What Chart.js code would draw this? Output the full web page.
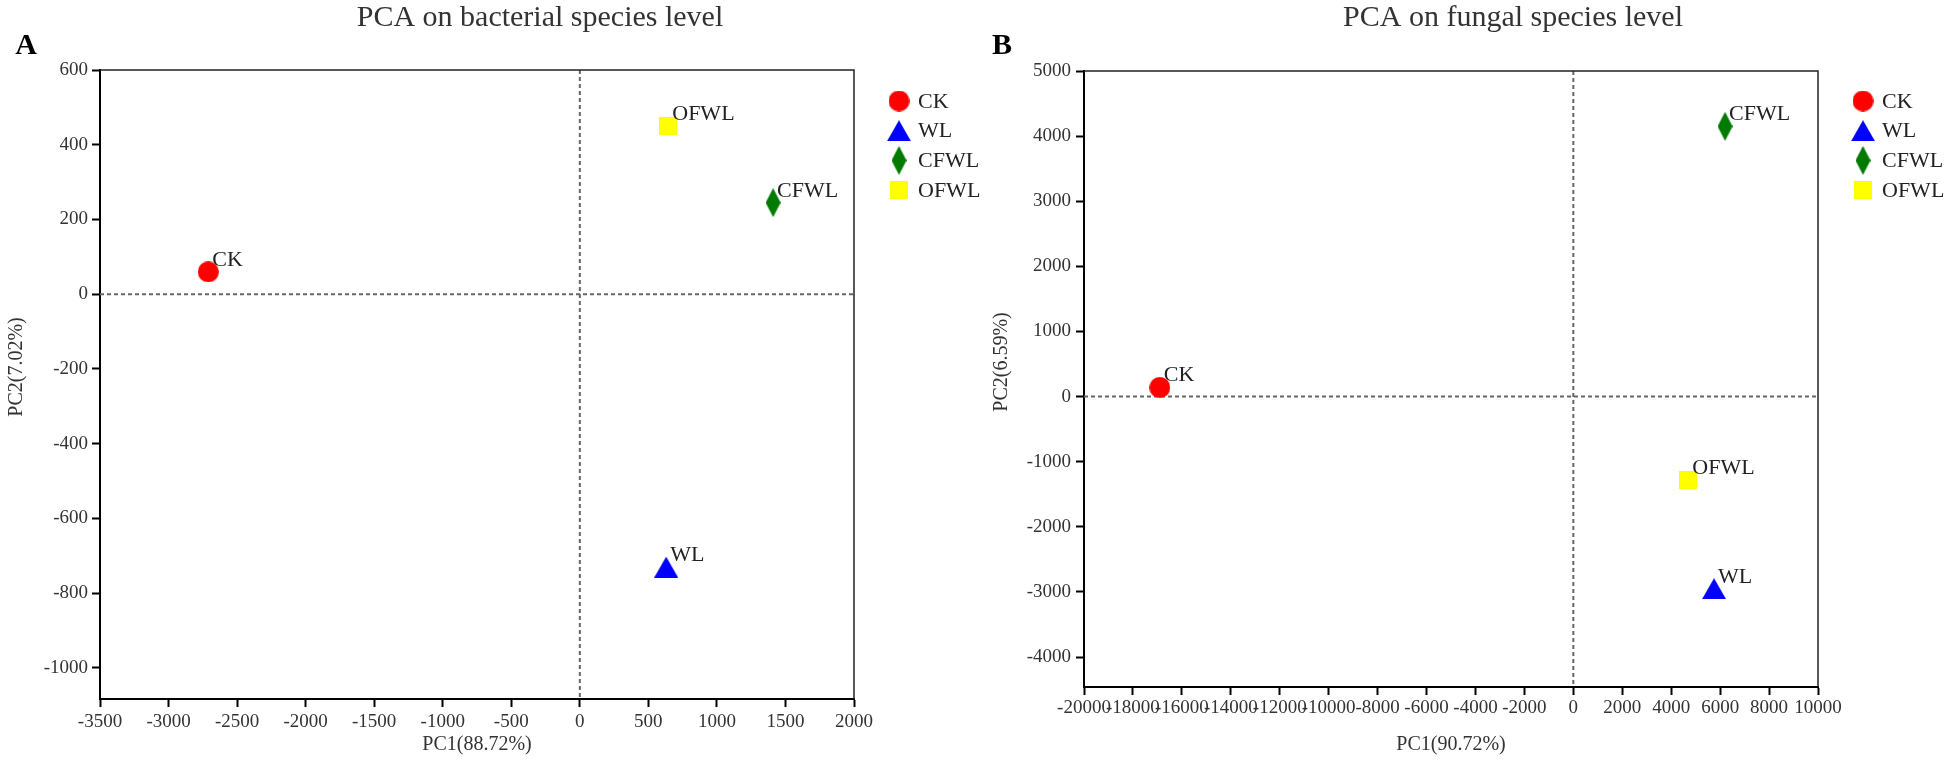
<!DOCTYPE html>
<html lang="en">
<head>
    <meta charset="UTF-8">
    <title>PCA on bacterial and fungal species level</title>
    <script src="https://cdn.jsdelivr.net/npm/chart.js"></script>
    <style>
        * { margin: 0; padding: 0; box-sizing: border-box; }
        body { background: #fff; width: 1948px; height: 772px; position: relative; overflow: hidden; }
        .panel { position: absolute; top: 0; }
        #panelA { left: 0; }
        #panelB { left: 980px; }
    </style>
</head>
<body>
    <div class="panel" id="panelA"><canvas id="bacChart" width="980" height="772"></canvas></div>
    <div class="panel" id="panelB"><canvas id="funChart" width="968" height="772"></canvas></div>

    <script>
        // sample groups (legend order)
        const groups = ['CK', 'WL', 'CFWL', 'OFWL'];
        const groupColors = ['#ff0000', '#0000ff', '#007a00', '#ffff00'];
        const groupShapes = ['circle', 'triangle', 'diamond', 'square'];

        // A: bacterial species level
        const bacPC1 = [-2710, 630, 1410, 645];
        const bacPC2 = [60, -730, 245, 450];
        const bacXTicks = [-3500, -3000, -2500, -2000, -1500, -1000, -500, 0, 500, 1000, 1500, 2000];
        const bacYTicks = [600, 400, 200, 0, -200, -400, -600, -800, -1000];

        // B: fungal species level
        const funPC1 = [-16900, 5750, 6200, 4700];
        const funPC2 = [140, -2950, 4150, -1280];
        const funXTicks = [-20000, -18000, -16000, -14000, -12000, -10000, -8000, -6000, -4000, -2000, 0, 2000, 4000, 6000, 8000, 10000];
        const funYTicks = [5000, 4000, 3000, 2000, 1000, 0, -1000, -2000, -3000, -4000];

        const FONT = "'Liberation Serif', 'Times New Roman', serif";

        // marker images so points and legend look the same
        function marker(shape, color) {
            const c = document.createElement('canvas');
            const dims = { circle: [21, 21], triangle: [24, 21], diamond: [15, 29], square: [18, 18] }[shape];
            c.width = dims[0]; c.height = dims[1];
            const g = c.getContext('2d');
            const w = c.width, h = c.height;
            g.fillStyle = color;
            g.beginPath();
            if (shape === 'circle') {
                g.arc(w / 2, h / 2, w / 2, 0, Math.PI * 2);
            } else if (shape === 'triangle') {
                g.moveTo(w / 2, 0); g.lineTo(w, h); g.lineTo(0, h); g.closePath();
            } else if (shape === 'diamond') {
                g.moveTo(w / 2, 0); g.lineTo(w, h / 2); g.lineTo(w / 2, h); g.lineTo(0, h / 2); g.closePath();
            } else {
                g.rect(0, 0, w, h);
            }
            g.fill();
            return c;
        }
        const markers = groups.map((g, i) => marker(groupShapes[i], groupColors[i]));

        // dashed zero lines, frame, titles, point labels, legend
        const overlay = {
            id: 'overlay',
            beforeDatasetsDraw(chart, args, o) {
                const { ctx, chartArea: a, scales: { x, y } } = chart;
                ctx.save();
                ctx.strokeStyle = '#666';
                ctx.lineWidth = 2;
                ctx.setLineDash([4, 3]);
                const x0 = x.getPixelForValue(0), y0 = y.getPixelForValue(0);
                ctx.beginPath();
                ctx.moveTo(x0, a.top); ctx.lineTo(x0, a.bottom);
                ctx.moveTo(a.left, y0); ctx.lineTo(a.right, y0);
                ctx.stroke();
                ctx.setLineDash([]);
                ctx.strokeStyle = '#222';
                ctx.lineWidth = 1.5;
                ctx.beginPath();
                ctx.moveTo(a.left, a.top); ctx.lineTo(a.right, a.top); ctx.lineTo(a.right, a.bottom);
                ctx.stroke();
                ctx.restore();
            },
            afterDraw(chart, args, o) {
                const { ctx, chartArea: a } = chart;
                ctx.save();
                ctx.fillStyle = '#333';
                ctx.textBaseline = 'alphabetic';

                ctx.font = '30px ' + FONT;
                ctx.textAlign = 'center';
                ctx.fillText(o.title, o.titleX, 26);

                ctx.fillStyle = '#000';
                ctx.font = 'bold 30px ' + FONT;
                ctx.fillText(o.letter, o.letterX, 54);

                ctx.fillStyle = '#333';
                ctx.font = '20px ' + FONT;
                ctx.textBaseline = 'middle';
                ctx.fillText(o.xTitle, (a.left + a.right) / 2, 745);
                ctx.save();
                ctx.translate(o.yTitleX, o.yTitleY);
                ctx.rotate(-Math.PI / 2);
                ctx.fillText(o.yTitle, 0, 0);
                ctx.restore();

                // point labels
                ctx.fillStyle = '#222';
                ctx.font = '22px ' + FONT;
                ctx.textAlign = 'left';
                ctx.textBaseline = 'alphabetic';
                chart.data.datasets.forEach((ds, i) => {
                    const pt = chart.getDatasetMeta(i).data[0];
                    ctx.fillText(ds.label, pt.x + 4, pt.y - 6);
                });

                // legend
                ctx.textBaseline = 'middle';
                chart.data.datasets.forEach((ds, i) => {
                    const ry = 101 + i * 29.7;
                    const m = ds.pointStyle;
                    ctx.drawImage(m, o.legendX - m.width / 2, ry - m.height / 2);
                    ctx.fillText(ds.label, o.legendX + 19, ry + 1);
                });
                ctx.restore();
            }
        };

        function axis(min, max, ticks, opts) {
            return {
                type: 'linear',
                min: min,
                max: max,
                afterBuildTicks: s => { s.ticks = ticks.map(v => ({ value: v })); },
                afterFit: s => {
                    if (opts.width) s.width = opts.width;
                    if (opts.height) s.height = opts.height;
                },
                grid: { drawOnChartArea: false, drawTicks: true, tickLength: 8, tickColor: '#000', tickWidth: 2 },
                border: { display: true, color: '#000', width: 2 },
                ticks: {
                    autoSkip: false,
                    maxRotation: 0,
                    minRotation: 0,
                    padding: opts.pad,
                    color: '#333',
                    font: { family: FONT, size: 19 },
                    callback: v => String(v)
                }
            };
        }

        function pcaChart(id, pc1, pc2, xAxis, yAxis, pad, ov) {
            const datasets = groups.map((g, i) => ({
                label: g,
                data: [{ x: pc1[i], y: pc2[i] }],
                pointStyle: markers[i],
                pointRadius: 10,
                backgroundColor: groupColors[i],
                borderColor: groupColors[i]
            }));
            return new Chart(document.getElementById(id), {
                type: 'scatter',
                data: { datasets: datasets },
                plugins: [overlay],
                options: {
                    responsive: false,
                    animation: false,
                    events: [],
                    layout: { padding: pad },
                    scales: { x: xAxis, y: yAxis },
                    plugins: {
                        legend: { display: false },
                        tooltip: { enabled: false },
                        overlay: ov
                    }
                }
            });
        }

        pcaChart('bacChart', bacPC1, bacPC2,
            axis(-3500, 2000, bacXTicks, { height: 73, pad: 4 }),
            axis(-1083, 600, bacYTicks, { width: 100, pad: 4 }),
            { left: 0, top: 70, right: 126, bottom: 0 },
            {
                title: 'PCA on bacterial species level', titleX: 540,
                letter: 'A', letterX: 26,
                xTitle: 'PC1(88.72%)',
                yTitle: 'PC2(7.02%)', yTitleX: 17, yTitleY: 367,
                legendX: 899
            });

        pcaChart('funChart', funPC1, funPC2,
            axis(-20000, 10000, funXTicks, { height: 85, pad: 2 }),
            axis(-4460, 5000, funYTicks, { width: 104, pad: 5 }),
            { left: 0, top: 71, right: 130, bottom: 0 },
            {
                title: 'PCA on fungal species level', titleX: 533,
                letter: 'B', letterX: 22,
                xTitle: 'PC1(90.72%)',
                yTitle: 'PC2(6.59%)', yTitleX: 22, yTitleY: 362,
                legendX: 883
            });
    </script>
</body>
</html>
